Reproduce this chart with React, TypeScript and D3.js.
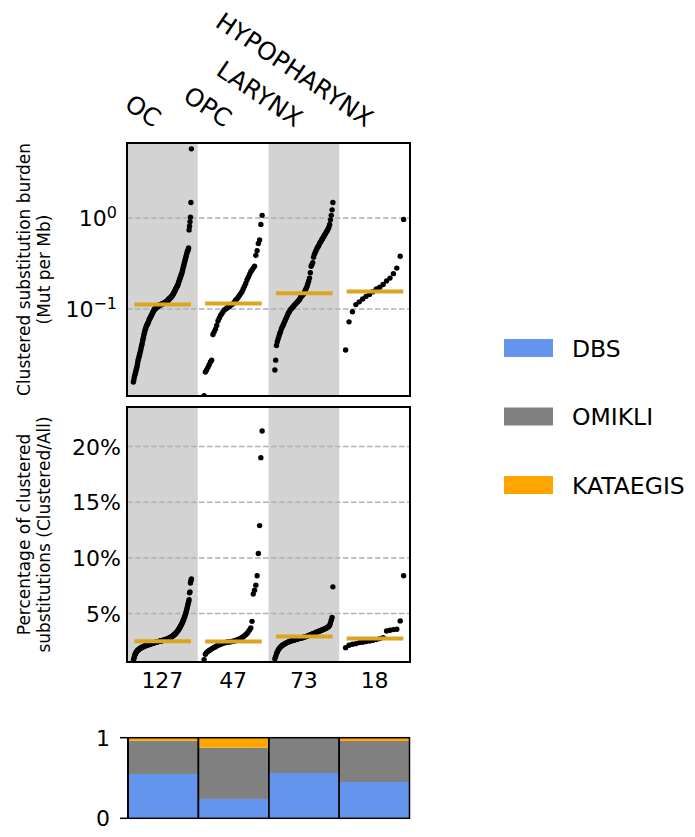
import React from "react";
import * as d3 from "d3";

const categories = ["OC", "OPC", "LARYNX", "HYPOPHARYNX"];
const sampleCounts = [127, 47, 73, 18];

// Clustered substitution burden (Mut per Mb), sorted per group
const ocBurden = [
  0.0158, 0.0166, 0.0178, 0.0186, 0.0195, 0.0204, 0.0214, 0.0224, 0.0234, 0.0251,
  0.0269, 0.0282, 0.0295, 0.0309, 0.0324, 0.0339, 0.0355, 0.038, 0.0398, 0.0417,
  0.0447, 0.0468, 0.049, 0.0525, 0.055, 0.0575, 0.0603, 0.0617, 0.0646, 0.0661,
  0.0676, 0.0692, 0.0708, 0.0724, 0.0759, 0.0776, 0.0794, 0.0813, 0.0832, 0.0851,
  0.0871, 0.0891, 0.0912, 0.0933, 0.0955, 0.0977, 0.1, 0.1, 0.102, 0.102,
  0.105, 0.105, 0.107, 0.107, 0.107, 0.11, 0.11, 0.11, 0.11, 0.112,
  0.112, 0.112, 0.112, 0.115, 0.115, 0.115, 0.115, 0.117, 0.117, 0.117,
  0.12, 0.12, 0.12, 0.123, 0.123, 0.126, 0.126, 0.129, 0.129, 0.132,
  0.132, 0.135, 0.135, 0.138, 0.141, 0.141, 0.145, 0.148, 0.151, 0.155,
  0.158, 0.162, 0.166, 0.17, 0.174, 0.178, 0.182, 0.186, 0.195, 0.2,
  0.209, 0.214, 0.224, 0.229, 0.24, 0.245, 0.257, 0.269, 0.282, 0.295,
  0.309, 0.324, 0.339, 0.355, 0.372, 0.389, 0.407, 0.427, 0.437, 0.447,
  0.468, 0.741, 0.813, 0.912, 1.02, 1.48, 5.75,
];
const opcBurden = [
  0.0112, 0.0204, 0.0214, 0.0229, 0.0245, 0.0263, 0.0275, 0.0525, 0.0562, 0.0603,
  0.0661, 0.0741, 0.0794, 0.0851, 0.0891, 0.0933, 0.0977, 0.1, 0.102, 0.105,
  0.107, 0.11, 0.112, 0.115, 0.12, 0.126, 0.129, 0.135, 0.141, 0.148,
  0.155, 0.166, 0.178, 0.191, 0.209, 0.224, 0.24, 0.257, 0.269, 0.282,
  0.295, 0.389, 0.437, 0.525, 0.575, 0.851, 1.07,
];
const larynxBurden = [
  0.0214, 0.0275, 0.0398, 0.0437, 0.0468, 0.0501, 0.0537, 0.0562, 0.0603, 0.0631,
  0.0661, 0.0692, 0.0724, 0.0759, 0.0794, 0.0832, 0.0871, 0.0912, 0.0933, 0.0977,
  0.1, 0.102, 0.105, 0.107, 0.11, 0.112, 0.115, 0.117, 0.12, 0.123,
  0.126, 0.129, 0.135, 0.138, 0.141, 0.145, 0.148, 0.155, 0.162, 0.17,
  0.178, 0.191, 0.204, 0.219, 0.251, 0.295, 0.309, 0.324, 0.372, 0.398,
  0.417, 0.437, 0.457, 0.479, 0.49, 0.513, 0.537, 0.55, 0.575, 0.589,
  0.617, 0.631, 0.661, 0.676, 0.708, 0.724, 0.759, 0.794, 0.851, 0.955,
  1.07, 1.23, 1.48,
];
const hypoBurden = [
  0.0355, 0.0724, 0.0933, 0.112, 0.12, 0.129, 0.138, 0.145, 0.155, 0.166,
  0.174, 0.186, 0.204, 0.219, 0.245, 0.282, 0.38, 0.966,
];
const burdenMedians = [0.112, 0.115, 0.149, 0.156];

// Percentage of clustered substitutions (%), sorted per group
const ocPct = [
  0.75, 0.95, 1.1, 1.25, 1.35, 1.45, 1.52, 1.58, 1.63, 1.68,
  1.72, 1.76, 1.79, 1.82, 1.85, 1.88, 1.9, 1.93, 1.95, 1.97,
  1.99, 2.01, 2.03, 2.05, 2.07, 2.09, 2.1, 2.12, 2.14, 2.15,
  2.17, 2.18, 2.2, 2.21, 2.23, 2.24, 2.26, 2.27, 2.28, 2.3,
  2.31, 2.32, 2.34, 2.35, 2.36, 2.37, 2.39, 2.4, 2.41, 2.42,
  2.43, 2.45, 2.46, 2.47, 2.48, 2.49, 2.5, 2.51, 2.52, 2.53,
  2.54, 2.55, 2.56, 2.57, 2.58, 2.6, 2.61, 2.62, 2.63, 2.65,
  2.66, 2.68, 2.69, 2.71, 2.72, 2.74, 2.76, 2.78, 2.8, 2.82,
  2.84, 2.86, 2.89, 2.92, 2.95, 2.98, 3.01, 3.04, 3.07, 3.11,
  3.15, 3.19, 3.23, 3.28, 3.33, 3.38, 3.43, 3.49, 3.55, 3.61,
  3.68, 3.75, 3.82, 3.9, 3.98, 4.07, 4.16, 4.25, 4.35, 4.45,
  4.56, 4.67, 4.79, 4.92, 5.06, 5.21, 5.37, 5.54, 5.72, 5.9,
  6.08, 6.25, 6.86, 6.95, 7.75, 7.95, 8.1,
];
const opcPct = [
  0.86, 1.35, 1.5, 1.6, 1.68, 1.76, 1.83, 1.9, 1.96, 2.03,
  2.09, 2.15, 2.2, 2.25, 2.3, 2.34, 2.37, 2.4, 2.42, 2.44,
  2.46, 2.47, 2.49, 2.51, 2.54, 2.58, 2.62, 2.67, 2.72, 2.78,
  2.84, 2.92, 3.0, 3.1, 3.22, 3.36, 3.52, 3.7,
  4.3, 6.75, 7.1, 7.55, 8.4, 10.4, 12.9, 19.0, 21.4,
];
const larynxPct = [
  0.95, 1.15, 1.4, 1.55, 1.7, 1.82, 1.92, 2.0, 2.07, 2.13,
  2.18, 2.23, 2.27, 2.31, 2.35, 2.39, 2.42, 2.45, 2.48, 2.51,
  2.54, 2.56, 2.59, 2.61, 2.63, 2.65, 2.67, 2.69, 2.71, 2.73,
  2.75, 2.77, 2.79, 2.81, 2.83, 2.85, 2.88, 2.9, 2.92, 2.95,
  2.97, 3.0, 3.03, 3.06, 3.09, 3.12, 3.15, 3.18, 3.21, 3.24,
  3.27, 3.3, 3.33, 3.36, 3.39, 3.42, 3.45, 3.48, 3.51, 3.54,
  3.57, 3.6, 3.63, 3.67, 3.71, 3.75, 3.8, 3.86, 3.95, 4.15,
  4.4, 4.65, 7.4,
];
const hypoPct = [
  1.94, 2.15, 2.24, 2.3, 2.39, 2.42, 2.48, 2.54, 2.6, 2.66,
  2.75, 2.84, 3.44, 3.5, 3.56, 3.59, 4.34, 8.39,
];
const pctMedians = [2.51, 2.48, 2.93, 2.75];

const burdenTicks = [0.1, 1];
const pctTicks = [5, 10, 15, 20];
const fractionTicks = [0, 1];

// Bottom stacked fractions
const dbsFraction = [0.55, 0.24, 0.562, 0.45];
const omikliFraction = [0.413, 0.636, 0.434, 0.51];
const kataegisFraction = [0.037, 0.124, 0.004, 0.04];

const legendLabels = ["DBS", "OMIKLI", "KATAEGIS"];
const legendColors = ["#6495ED", "#808080", "#FFA500"];

const burdenGroups = [ocBurden, opcBurden, larynxBurden, hypoBurden];
const pctGroups = [ocPct, opcPct, larynxPct, hypoPct];

const FONT = "DejaVu Sans, sans-serif";

export default function App() {
  const W = 695;
  const H = 837;
  const left = 127;
  const right = 410;

  const x = d3.scaleBand<string>().domain(categories).range([left, right]).padding(0);
  const bw = x.bandwidth();
  const innerX = (ci: number, i: number, n: number) =>
    (x(categories[ci]) as number) + bw * (0.09 + 0.82 * (n > 1 ? i / (n - 1) : 0.5));

  const topY0 = 143, topY1 = 396;
  const midY0 = 407, midY1 = 662;
  const yTop = d3.scaleLog().domain([0.0111, 6.67]).range([topY1, topY0]);
  const yMid = d3.scaleLinear().domain([0.65, 23.55]).range([midY1, midY0]);
  const xb = d3.scaleBand<string>().domain(categories).range([128, 409.5]).padding(0);
  const yBot = d3.scaleLinear().domain([0, 1]).range([818.3, 737.7]);

  const rows = categories.map((c, i) => ({
    cat: c,
    DBS: dbsFraction[i],
    OMIKLI: omikliFraction[i],
    KATAEGIS: kataegisFraction[i],
  }));
  const stack = d3.stack<any>().keys(legendLabels)(rows);

  const bands = (y0: number, y1: number, key: string) =>
    categories.map((c, i) =>
      i % 2 === 0 ? (
        <rect key={key + c} x={x(c)} y={y0} width={bw} height={y1 - y0} fill="#d3d3d3" />
      ) : null
    );

  const dots = (groups: number[][], y: (v: number) => number, key: string) =>
    groups.map((g, ci) =>
      g.map((v, i) => (
        <circle key={key + ci + "-" + i} cx={innerX(ci, i, g.length)} cy={y(v)} r={2.7} fill="#000" />
      ))
    );

  const medians = (meds: number[], y: (v: number) => number, key: string) =>
    meds.map((m, ci) => (
      <line
        key={key + ci}
        x1={(x(categories[ci]) as number) + bw * 0.105}
        x2={(x(categories[ci]) as number) + bw * 0.905}
        y1={y(m)}
        y2={y(m)}
        stroke="#DAA520"
        strokeWidth={4}
      />
    ));

  return (
    <svg
      width={W}
      height={H}
      style={{ position: "absolute", left: 0, top: 0, display: "block", background: "#fff" }}
      fontFamily={FONT}
    >
      <defs>
        <clipPath id="clipTop">
          <rect x={left} y={topY0} width={right - left} height={topY1 - topY0} />
        </clipPath>
        <clipPath id="clipMid">
          <rect x={left} y={midY0} width={right - left} height={midY1 - midY0} />
        </clipPath>
      </defs>

      {/* Category labels */}
      {categories.map((c) => {
        const cx = (x(c) as number) + bw / 2 - 9;
        return (
          <text
            key={"cat" + c}
            transform={`translate(${cx},128) rotate(34)`}
            textAnchor="end"
            fontSize={24.5}
            fill="#000"
          >
            {c}
          </text>
        );
      })}

      {/* Top panel */}
      <g clipPath="url(#clipTop)">
        {bands(topY0, topY1, "bt")}
        {burdenTicks.map((t) => (
          <line key={"gt" + t} x1={left} x2={right} y1={yTop(t)} y2={yTop(t)} stroke="#b0b0b0" strokeWidth={1.5} strokeDasharray="5.5,2.5" />
        ))}
        {dots(burdenGroups, yTop, "dt")}
        {medians(burdenMedians, yTop, "mt")}
      </g>
      <rect x={left} y={topY0} width={right - left} height={topY1 - topY0} fill="none" stroke="#000" strokeWidth={2} />
      {burdenTicks.map((t) => {
        const e = Math.round(Math.log10(t));
        return (
          <text key={"tt" + t} x={117} y={yTop(t) + 8} textAnchor="end" fontSize={22} fill="#000">
            10
            <tspan dy={-8} fontSize={16}>{e < 0 ? "\u2212" + Math.abs(e) : String(e)}</tspan>
          </text>
        );
      })}
      <text transform={`translate(30,${(topY0 + topY1) / 2}) rotate(-90)`} textAnchor="middle" fontSize={17} fill="#000">
        Clustered substitution burden
      </text>
      <text transform={`translate(50,${(topY0 + topY1) / 2}) rotate(-90)`} textAnchor="middle" fontSize={17} fill="#000">
        (Mut per Mb)
      </text>

      {/* Middle panel */}
      <g clipPath="url(#clipMid)">
        {bands(midY0, midY1, "bm")}
        {pctTicks.map((t) => (
          <line key={"gm" + t} x1={left} x2={right} y1={yMid(t)} y2={yMid(t)} stroke="#b0b0b0" strokeWidth={1.5} strokeDasharray="5.5,2.5" />
        ))}
        {dots(pctGroups, yMid, "dm")}
        {medians(pctMedians, yMid, "mm")}
      </g>
      <rect x={left} y={midY0} width={right - left} height={midY1 - midY0} fill="none" stroke="#000" strokeWidth={2} />
      {pctTicks.map((t) => (
        <text key={"tm" + t} x={121} y={yMid(t) + 8} textAnchor="end" fontSize={22} fill="#000">
          {t + "%"}
        </text>
      ))}
      <text transform={`translate(30,${(midY0 + midY1) / 2}) rotate(-90)`} textAnchor="middle" fontSize={17} fill="#000">
        Percentage of clustered
      </text>
      <text transform={`translate(50,${(midY0 + midY1) / 2}) rotate(-90)`} textAnchor="middle" fontSize={17} fill="#000">
        substitutions (Clustered/All)
      </text>
      {categories.map((c, i) => (
        <text key={"n" + c} x={(x(c) as number) + bw / 2} y={688} textAnchor="middle" fontSize={22} fill="#000">
          {sampleCounts[i]}
        </text>
      ))}

      {/* Bottom stacked bars */}
      {stack.map((layer, li) =>
        layer.map((d, ci) => (
          <rect
            key={"s" + li + "-" + ci}
            x={xb(categories[ci])}
            y={yBot(d[1])}
            width={xb.bandwidth()}
            height={Math.max(0, yBot(d[0]) - yBot(d[1]))}
            fill={legendColors[li]}
          />
        ))
      )}
      {categories.map((c) => (
        <rect key={"o" + c} x={xb(c)} y={yBot(1)} width={xb.bandwidth()} height={yBot(0) - yBot(1)} fill="none" stroke="#000" strokeWidth={1.5} />
      ))}
      <line x1={128} x2={128} y1={yBot(0)} y2={yBot(1)} stroke="#000" strokeWidth={2} />
      {fractionTicks.map((t) => (
        <g key={"ft" + t}>
          <line x1={120} x2={128} y1={yBot(t)} y2={yBot(t)} stroke="#000" strokeWidth={1.5} />
          <text x={110} y={yBot(t) + 8} textAnchor="end" fontSize={22} fill="#000">
            {t}
          </text>
        </g>
      ))}

      {/* Legend */}
      {legendLabels.map((l, i) => {
        const cy = 348 + i * 68.5;
        return (
          <g key={"lg" + l}>
            <rect x={504} y={cy - 9} width={49} height={18} fill={legendColors[i]} />
            <text x={572} y={cy + 8.5} fontSize={23.5} fill="#000">
              {l}
            </text>
          </g>
        );
      })}
    </svg>
  );
}
